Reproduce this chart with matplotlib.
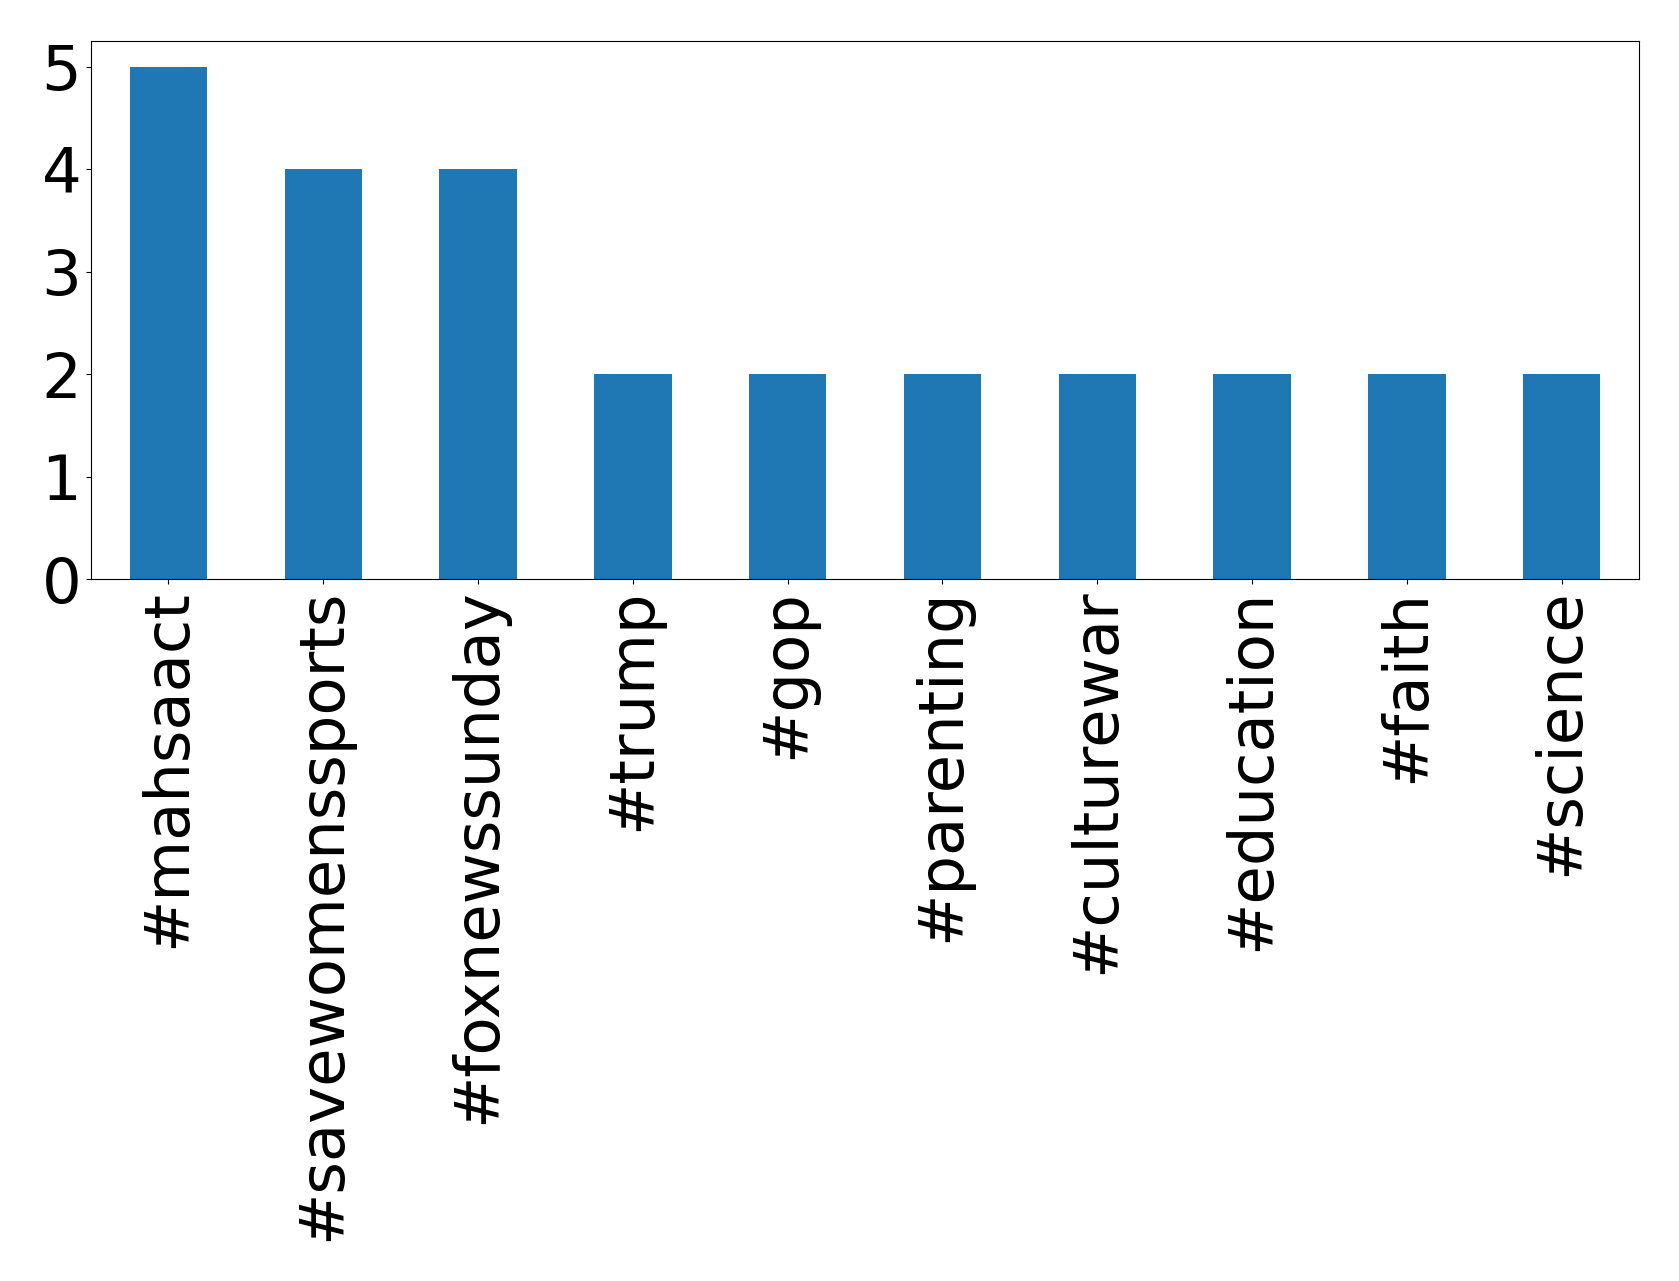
import matplotlib
matplotlib.use("Agg")
import matplotlib.pyplot as plt
import pandas as pd

hashtags = ["#mahsaact", "#savewomenssports", "#foxnewssunday", "#trump", "#gop",
            "#parenting", "#culturewar", "#education", "#faith", "#science"]
counts = [5, 4, 4, 2, 2, 2, 2, 2, 2, 2]

s = pd.Series(counts, index=hashtags)

fig = plt.figure(figsize=(16.79, 12.81), dpi=100)
ax = fig.add_axes([91 / 1679, 1 - 579 / 1281, (1639 - 91) / 1679, (579 - 41) / 1281])
s.plot(kind="bar", ax=ax, color="#1f77b4", fontsize=45)
ax.set_yticks([0, 1, 2, 3, 4, 5])
fig.savefig("out.png", dpi=100)
